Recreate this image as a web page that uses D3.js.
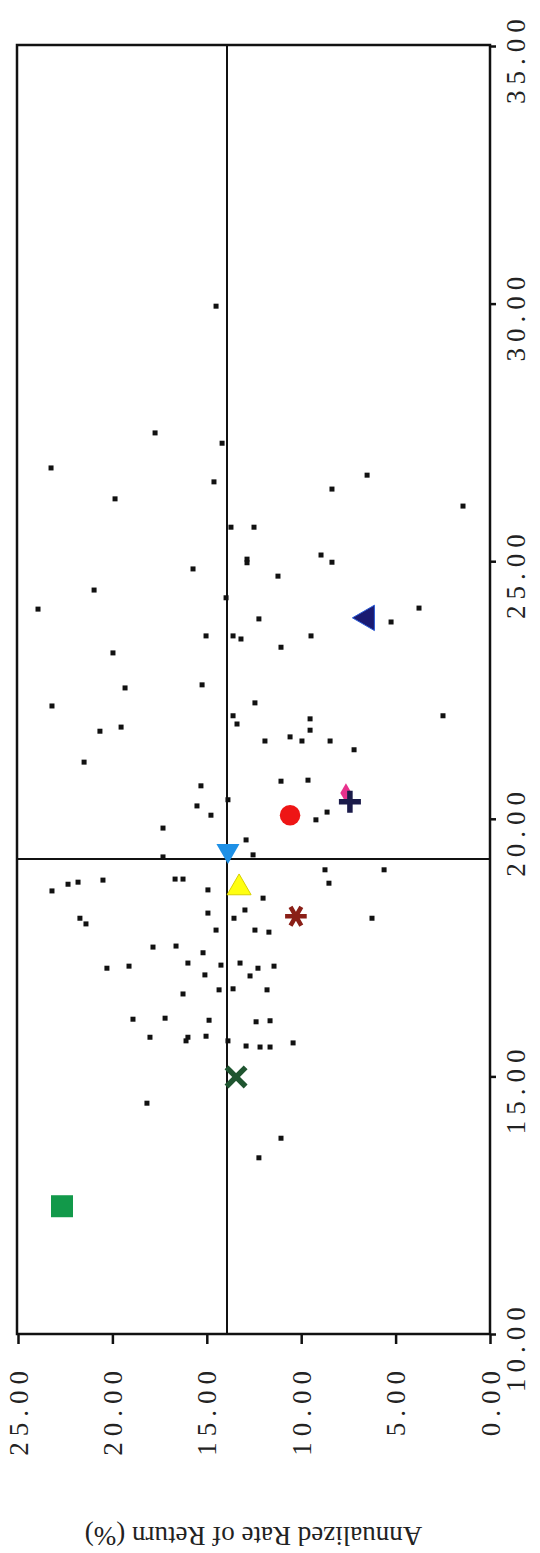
<!DOCTYPE html>
<html>
<head>
<meta charset="utf-8">
<script src="https://cdn.jsdelivr.net/npm/d3@7"></script>
<style>
  body { margin: 0; background: #fff; }
  svg { display: block; }
  .tick text { font-family: "Liberation Serif", "Times New Roman", serif; font-size: 27px; letter-spacing: 6px; fill: #222; }
</style>
</head>
<body>
<svg width="540" height="1553"></svg>
<script>
// risk (horizontal axis of the original chart, drawn vertically here) and annualized return
const fundRisk = [29.95, 27.49, 27.29, 26.81, 26.54, 26.40, 26.67, 26.07, 26.21, 25.66, 25.66, 25.04, 24.97, 24.85, 25.12, 24.98, 24.71, 24.44, 24.29, 24.07,
  23.88, 23.82, 24.09, 23.55, 23.55, 23.49, 23.55, 23.33, 23.22, 22.54, 22.60, 22.19, 22.25, 22.00, 21.78, 22.00, 21.70, 21.94, 21.72, 21.84,
  21.51, 21.59, 21.51, 21.51, 21.34, 21.10, 20.73, 20.75, 20.64, 20.37, 20.25, 20.07, 20.13, 19.98, 19.82, 19.59, 19.30, 19.26, 19.01, 18.75,
  19.01, 18.83, 18.83, 18.81, 18.60, 18.73, 18.77, 18.62, 18.46, 18.23, 18.17, 18.07, 18.07, 18.07, 17.96, 17.80, 17.51, 17.84, 17.84, 17.40,
  17.20, 17.20, 17.16, 17.53, 17.14, 16.97, 17.10, 16.95, 17.14, 17.10, 16.68, 16.60, 16.70, 16.68, 16.13, 16.09, 15.76, 15.78, 16.06, 16.08,
  16.11, 15.76, 15.69, 15.59, 15.65, 15.57, 15.57, 14.48, 13.80, 13.42, 15.69];
const fundReturn = [14.51, 17.74, 14.19, 23.25, 14.62, 8.37, 6.51, 1.43, 19.86, 13.72, 12.50, 12.87, 12.87, 15.73, 8.95, 8.37, 11.23, 20.97, 13.98, 23.94,
  12.24, 5.24, 3.76, 15.04, 13.61, 13.19, 9.48, 11.07, 19.97, 19.33, 15.25, 23.20, 12.45, 2.49, 19.54, 13.61, 20.66, 9.53, 9.53, 13.40,
  11.92, 10.59, 9.96, 8.47, 7.20, 21.50, 11.07, 9.64, 15.31, 13.88, 15.52, 14.78, 8.63, 9.22, 17.32, 12.92, 12.55, 17.32, 8.74, 8.53,
  5.61, 16.68, 16.26, 20.50, 23.20, 22.35, 21.82, 14.94, 12.02, 12.98, 14.94, 13.56, 6.25, 21.72, 21.40, 11.71, 17.85, 14.51, 12.45, 15.20,
  13.24, 16.00, 14.25, 16.63, 19.12, 15.10, 12.29, 12.71, 11.44, 20.29, 14.35, 16.26, 13.61, 11.81, 17.21, 14.88, 16.00, 15.04, 12.39, 11.65,
  18.91, 18.01, 13.88, 12.92, 10.43, 12.18, 11.65, 18.17, 11.07, 12.24, 16.10];

// highlighted portfolios
const markerKeys = ["square", "times", "asterisk", "triUp", "triDown", "circle", "diamond", "plus", "triLeft"];
const markerRisk = [12.48, 14.99, 18.11, 18.66, 19.38, 20.07, 20.50, 20.33, 23.90];
const markerReturn = [22.67, 13.45, 10.28, 13.29, 13.88, 10.59, 7.63, 7.42, 6.51];

// averages (cross lines)
const avgRisk = 19.22;
const avgReturn = 13.93;

const riskTicks = [10, 15, 20, 25, 30, 35];
const returnTicks = [0, 5, 10, 15, 20, 25];
const yTitle = "Annualized Rate of Return (%)";

const svg = d3.select("svg");

const plotLeft = 17, plotRight = 490, plotTop = 45, plotBottom = 1334;

// rotated chart: return runs right-to-left, risk runs bottom-to-top
const xScale = d3.scaleLinear().domain([0, 25]).range([plotRight, plotLeft + 1]);
const yScale = d3.scaleLinear().domain([10, 35]).range([plotBottom, plotTop + 1]);

// Axes
const xAxis = svg.append("g")
    .attr("transform", `translate(0,${plotBottom})`)
    .call(d3.axisBottom(xScale).tickValues(returnTicks).tickSize(10).tickFormat(d3.format(".2f")));
xAxis.select(".domain").remove();
xAxis.selectAll(".tick line").attr("stroke", "#111").attr("stroke-width", 2.5);
xAxis.selectAll(".tick text")
    .attr("transform", "rotate(-90)")
    .attr("x", -31)
    .attr("y", 0)
    .attr("dy", "0.34em")
    .style("text-anchor", "end");

const yAxis = svg.append("g")
    .attr("transform", `translate(${plotRight},0)`)
    .call(d3.axisRight(yScale).tickValues(riskTicks).tickSize(6).tickFormat(d3.format(".2f")));
yAxis.select(".domain").remove();
yAxis.selectAll(".tick line").attr("stroke", "#111").attr("stroke-width", 2.5);
yAxis.selectAll(".tick text")
    .attr("transform", "rotate(-90)")
    .attr("x", -12)
    .attr("y", 35)
    .attr("dy", 0)
    .style("text-anchor", "middle");

// frame
svg.append("rect")
    .attr("x", plotLeft).attr("y", plotTop)
    .attr("width", plotRight - plotLeft).attr("height", plotBottom - plotTop)
    .attr("fill", "none").attr("stroke", "#111").attr("stroke-width", 2.5);

// average lines
svg.append("line")
    .attr("x1", xScale(avgReturn)).attr("x2", xScale(avgReturn))
    .attr("y1", plotTop).attr("y2", plotBottom)
    .attr("stroke", "#111").attr("stroke-width", 2);
svg.append("line")
    .attr("x1", plotLeft).attr("x2", plotRight)
    .attr("y1", yScale(avgRisk)).attr("y2", yScale(avgRisk))
    .attr("stroke", "#111").attr("stroke-width", 2);

// axis title (upside down after rotation)
svg.append("text")
    .attr("transform", `translate(${(plotLeft + plotRight) / 2},1536) rotate(180)`)
    .attr("text-anchor", "middle")
    .attr("dominant-baseline", "central")
    .style("font-family", "'Liberation Serif', 'Times New Roman', serif")
    .style("font-size", "27px")
    .style("fill", "#222")
    .text(yTitle);

// fund points
const funds = fundRisk.map((r, i) => ({ risk: r, ret: fundReturn[i] }));
svg.append("g").selectAll("rect")
    .data(funds)
    .join("rect")
    .attr("x", d => xScale(d.ret) - 2.5)
    .attr("y", d => yScale(d.risk) - 2.5)
    .attr("width", 5)
    .attr("height", 5)
    .attr("fill", "#111");

// marker styles
const markerStyles = {
    square: { type: d3.symbolSquare, size: 484, rot: 0, fill: "#12994a", stroke: "none", sw: 0 },
    times: { type: d3.symbolTimes, size: 240, rot: 0, fill: "none", stroke: "#1f5530", sw: 5.5 },
    asterisk: { type: d3.symbolAsterisk, size: 330, rot: 90, fill: "none", stroke: "#8a1f17", sw: 4.5 },
    triUp: { type: d3.symbolTriangle, size: 250, rot: 0, fill: "#ffff10", stroke: "#d8d000", sw: 1 },
    triDown: { type: d3.symbolTriangle, size: 230, rot: 180, fill: "#1e90e6", stroke: "none", sw: 0 },
    circle: { type: d3.symbolCircle, size: 330, rot: 0, fill: "#ee1515", stroke: "none", sw: 0 },
    diamond: { type: d3.symbolDiamond, size: 110, rot: 0, fill: "#e8308c", stroke: "none", sw: 0 },
    plus: { type: d3.symbolPlus, size: 160, rot: 0, fill: "none", stroke: "#1b1b4a", sw: 5.5 },
    triLeft: { type: d3.symbolTriangle, size: 280, rot: -90, fill: "#1a1a72", stroke: "#2a5bd8", sw: 1 }
};

const markers = markerKeys.map((k, i) => ({ key: k, risk: markerRisk[i], ret: markerReturn[i] }));
svg.append("g").selectAll("path")
    .data(markers)
    .join("path")
    .attr("transform", d => `translate(${xScale(d.ret)},${yScale(d.risk)}) rotate(${markerStyles[d.key].rot})`)
    .attr("d", d => d3.symbol(markerStyles[d.key].type, markerStyles[d.key].size)())
    .attr("fill", d => markerStyles[d.key].fill)
    .attr("stroke", d => markerStyles[d.key].stroke)
    .attr("stroke-width", d => markerStyles[d.key].sw);
</script>
</body>
</html>
